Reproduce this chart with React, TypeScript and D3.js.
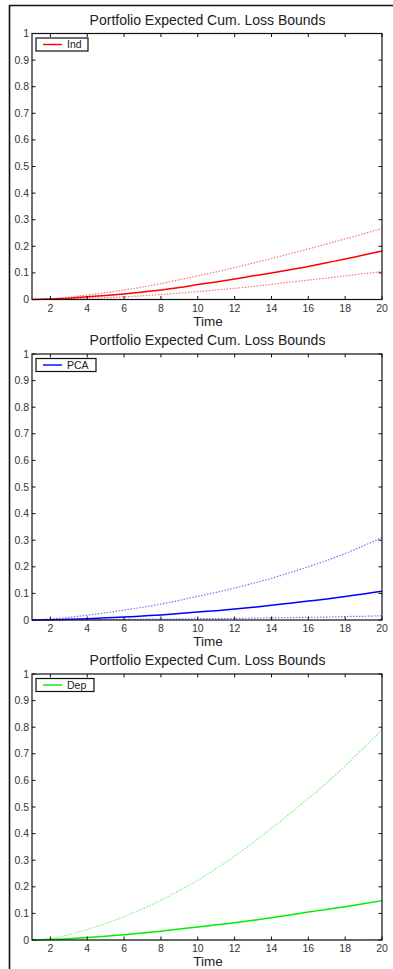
import React, { useEffect, useRef } from 'react';
import * as d3 from 'd3';

const times = d3.range(1, 21);

const indMean = [0, 0.002, 0.005, 0.01, 0.015, 0.021, 0.028, 0.036, 0.045, 0.056, 0.066, 0.077, 0.089, 0.1, 0.112, 0.124, 0.138, 0.152, 0.167, 0.182];
const indUpper = [0, 0.003, 0.009, 0.017, 0.026, 0.036, 0.047, 0.06, 0.074, 0.089, 0.104, 0.12, 0.137, 0.154, 0.172, 0.19, 0.209, 0.228, 0.247, 0.267];
const indLower = [0, 0.001, 0.003, 0.005, 0.007, 0.01, 0.014, 0.019, 0.024, 0.03, 0.036, 0.042, 0.049, 0.057, 0.065, 0.073, 0.081, 0.089, 0.097, 0.105];

const pcaMean = [0, 0.001, 0.003, 0.005, 0.008, 0.011, 0.015, 0.019, 0.024, 0.03, 0.035, 0.041, 0.048, 0.055, 0.063, 0.071, 0.079, 0.088, 0.098, 0.108];
const pcaUpper = [0, 0.004, 0.01, 0.018, 0.027, 0.037, 0.048, 0.06, 0.074, 0.089, 0.104, 0.12, 0.138, 0.157, 0.178, 0.2, 0.224, 0.25, 0.279, 0.31];
const pcaLower = [0, 0, 0.001, 0.001, 0.002, 0.002, 0.003, 0.003, 0.004, 0.005, 0.005, 0.006, 0.007, 0.008, 0.009, 0.01, 0.011, 0.013, 0.014, 0.016];

const depMean = [0, 0.002, 0.005, 0.009, 0.014, 0.02, 0.026, 0.033, 0.041, 0.049, 0.057, 0.065, 0.074, 0.084, 0.094, 0.105, 0.115, 0.125, 0.136, 0.148];
const depUpper = [0, 0.006, 0.02, 0.04, 0.062, 0.088, 0.117, 0.15, 0.186, 0.225, 0.268, 0.315, 0.366, 0.42, 0.475, 0.532, 0.592, 0.655, 0.722, 0.79];
const depLower = [0, 0, 0, 0, 0, 0, 0, 0, 0, 0, 0, 0, 0, 0.001, 0.001, 0.001, 0.001, 0.001, 0.002, 0.002];

const xTicks = [2, 4, 6, 8, 10, 12, 14, 16, 18, 20];
const yTicks = [0, 0.1, 0.2, 0.3, 0.4, 0.5, 0.6, 0.7, 0.8, 0.9, 1];

const panels = [
  { name: 'Ind', color: '#ff0000', mean: indMean, upper: indUpper, lower: indLower, legendW: 52 },
  { name: 'PCA', color: '#0000ff', mean: pcaMean, upper: pcaUpper, lower: pcaLower, legendW: 60 },
  { name: 'Dep', color: '#00ee00', mean: depMean, upper: depUpper, lower: depLower, legendW: 58 },
];

const title = 'Portfolio Expected Cum. Loss Bounds';
const font = '"Liberation Sans", Arial, Helvetica, sans-serif';

const App = () => {
  const ref = useRef<SVGSVGElement>(null);

  useEffect(() => {
    const width = 393;
    const height = 969;
    const svg = d3.select(ref.current).attr('width', width).attr('height', height);
    svg.selectAll('*').remove();

    // outer frame (top and left edges visible)
    svg.append('line').attr('x1', 9).attr('x2', width).attr('y1', 5.5).attr('y2', 5.5)
      .attr('stroke', '#111').attr('stroke-width', 1.6);
    svg.append('line').attr('x1', 9.5).attr('x2', 9.5).attr('y1', 5).attr('y2', height)
      .attr('stroke', '#111').attr('stroke-width', 1.6);

    const left = 32;
    const right = 382;
    const tops = [33.5, 354, 674];
    const plotH = 266;

    panels.forEach((p, i) => {
      const top = tops[i];
      const bottom = top + plotH;
      const x = d3.scaleLinear().domain([1, 20]).range([left, right]);
      const y = d3.scaleLinear().domain([0, 1]).range([bottom, top]);
      const g = svg.append('g');

      g.append('text')
        .attr('x', (left + right) / 2 + 0.5).attr('y', top - 9)
        .attr('text-anchor', 'middle')
        .style('font-family', font).style('font-size', '14px').attr('fill', '#222')
        .text(title);

      const line = d3.line<number>()
        .curve(d3.curveMonotoneX)
        .x((_, j) => x(times[j]))
        .y(d => y(d));

      [p.upper, p.lower].forEach(arr => {
        g.append('path').attr('d', line(arr)).attr('fill', 'none')
          .attr('stroke', p.color).attr('stroke-width', 1.2)
          .attr('stroke-opacity', 0.55)
          .attr('stroke-dasharray', '1.5,1.5');
      });
      g.append('path').attr('d', line(p.mean)).attr('fill', 'none')
        .attr('stroke', p.color).attr('stroke-width', 1.5);

      // axes box
      g.append('rect').attr('x', left).attr('y', top).attr('width', right - left).attr('height', plotH)
        .attr('fill', 'none').attr('stroke', '#111').attr('stroke-width', 1.2);

      // ticks (inward, all four sides)
      const tl = 3.5;
      xTicks.forEach(t => {
        g.append('line').attr('x1', x(t)).attr('x2', x(t)).attr('y1', bottom).attr('y2', bottom - tl)
          .attr('stroke', '#111');
        g.append('line').attr('x1', x(t)).attr('x2', x(t)).attr('y1', top).attr('y2', top + tl)
          .attr('stroke', '#111');
        g.append('text').attr('x', x(t)).attr('y', bottom + 12)
          .attr('text-anchor', 'middle')
          .style('font-family', font).style('font-size', '10.5px').attr('fill', '#333')
          .text(t);
      });
      yTicks.forEach(t => {
        g.append('line').attr('x1', left).attr('x2', left + tl).attr('y1', y(t)).attr('y2', y(t))
          .attr('stroke', '#111');
        g.append('line').attr('x1', right).attr('x2', right - tl).attr('y1', y(t)).attr('y2', y(t))
          .attr('stroke', '#111');
        g.append('text').attr('x', left - 3).attr('y', y(t) + 3.5)
          .attr('text-anchor', 'end')
          .style('font-family', font).style('font-size', '10.5px').attr('fill', '#333')
          .text(d3.format('~g')(t));
      });

      g.append('text')
        .attr('x', (left + right) / 2 + 1).attr('y', bottom + 26)
        .attr('text-anchor', 'middle')
        .style('font-family', font).style('font-size', '13.5px').attr('fill', '#222')
        .text('Time');

      // legend
      const lx = left + 4;
      const ly = top + 4.5;
      g.append('rect').attr('x', lx).attr('y', ly).attr('width', p.legendW).attr('height', 13)
        .attr('fill', 'white').attr('stroke', '#111').attr('stroke-width', 1.2);
      g.append('line').attr('x1', lx + 7).attr('x2', lx + 26).attr('y1', ly + 6.5).attr('y2', ly + 6.5)
        .attr('stroke', p.color).attr('stroke-width', 1.4);
      g.append('text').attr('x', lx + 31).attr('y', ly + 10)
        .style('font-family', font).style('font-size', '10.5px').attr('fill', '#222')
        .text(p.name);
    });
  }, []);

  return <svg ref={ref} style={{ position: 'absolute', left: 0, top: 0, background: 'white' }}></svg>;
};

export default App;
